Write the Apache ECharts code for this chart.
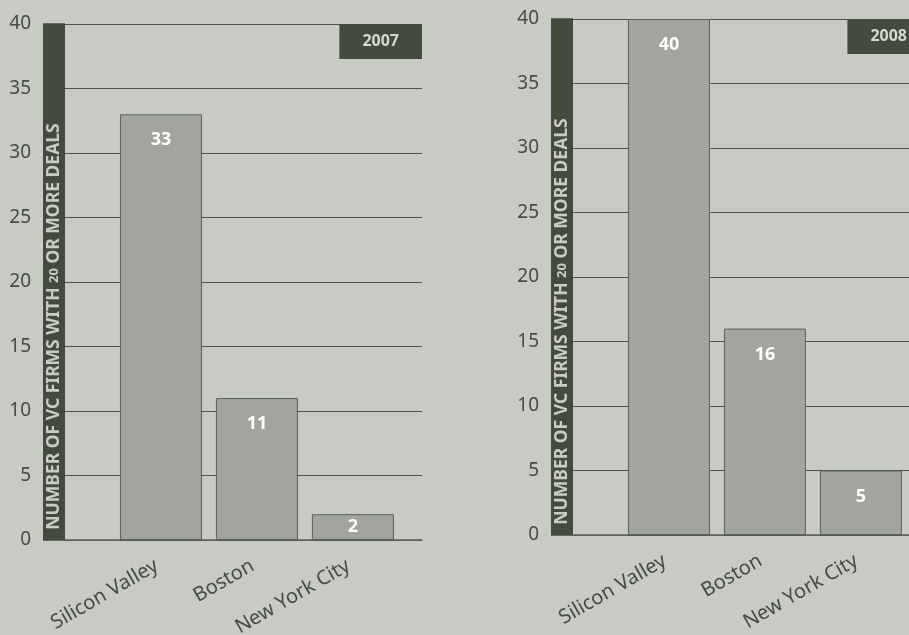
<!DOCTYPE html>
<html>
<head>
<meta charset="utf-8">
<script src="https://cdn.jsdelivr.net/npm/echarts@6/dist/echarts.min.js"></script>
<style>
  html, body { margin: 0; padding: 0; background: #c8cac4; overflow: hidden; }
  #chart { width: 940px; height: 635px; }
</style>
</head>
<body>
<div id="chart"></div>
<script>
// VC firms with 20 or more deals, by region
const cities = ['Silicon Valley', 'Boston', 'New York City'];
const firms2007 = [33, 11, 2];
const firms2008 = [40, 16, 5];
const years = ['2007', '2008'];
const yMax = 40;
const yStep = 5;

const DARK = '#454b3c';
const BAR = '#a1a59e';
const BAR_EDGE = '#5b6156';
const GRIDLINE = '#4e5448';
const TEXT = '#464c40';
const FONT = 'Noto Sans';

const panels = [
  { grid: { left: 65, right: 518, top: 24, bottom: 95 }, year: years[0], values: firms2007, titleRight: 518, titleTop: 24 },
  { grid: { left: 573, right: 10, top: 19, bottom: 100 }, year: years[1], values: firms2008, titleRight: 10, titleTop: 19 }
];

const axisName = '{t|NUMBER OF VC FIRMS WITH }{n|20}{t| OR MORE DEALS}';

const option = {
  backgroundColor: '#c8cac4',
  animation: false,
  title: panels.map(p => ({
    text: p.year,
    right: p.titleRight,
    top: p.titleTop,
    padding: [9, 23, 9, 23],
    backgroundColor: DARK,
    textStyle: { color: '#d6d8d2', fontSize: 16, fontWeight: 'bold', lineHeight: 17, fontFamily: FONT }
  })),
  grid: panels.map(p => Object.assign({ containLabel: false, outerBoundsMode: 'none' }, p.grid)),
  xAxis: panels.map((p, i) => ({
    type: 'value',
    gridIndex: i,
    min: -1,
    max: 2.72,
    interval: 1,
    splitLine: { show: false },
    axisTick: { show: false },
    axisLine: { show: true, lineStyle: { color: '#5d6358', width: 1.5 } },
    axisLabel: {
      customValues: [0, 1, 2],
      hideOverlap: false,
      rotate: 30,
      margin: 22,
      padding: [0, 5, 0, 0],
      fontSize: 20,
      fontFamily: FONT,
      color: TEXT,
      formatter: v => (Number.isInteger(v) && cities[v] !== undefined ? cities[v] : '')
    }
  })),
  yAxis: panels.map((p, i) => ({
    type: 'value',
    gridIndex: i,
    min: 0,
    max: yMax,
    interval: yStep,
    axisLine: { show: false },
    axisTick: { show: false },
    splitLine: { show: true, lineStyle: { color: GRIDLINE, width: 1 } },
    axisLabel: { margin: 34, fontSize: 19, fontFamily: FONT, color: TEXT },
    name: axisName,
    nameLocation: 'middle',
    nameRotate: 90,
    nameGap: 0,
    nameMoveOverlap: false,
    nameTextStyle: {
      backgroundColor: DARK,
      padding: [4, 100, 4, 11],
      lineHeight: 14,
      rich: {
        t: { color: '#c9ccc4', fontSize: 17.5, fontWeight: 'bold', fontFamily: FONT, lineHeight: 14 },
        n: { color: '#c9ccc4', fontSize: 13, fontWeight: 'bold', fontFamily: FONT, lineHeight: 14 }
      }
    }
  })),
  series: panels.map((p, i) => ({
    type: 'bar',
    xAxisIndex: i,
    yAxisIndex: i,
    barWidth: 82,
    itemStyle: { color: BAR, borderColor: BAR_EDGE, borderWidth: 1 },
    label: {
      show: true,
      position: 'insideTop',
      distance: 17,
      color: '#ffffff',
      fontSize: 18,
      fontWeight: 'bold',
      fontFamily: FONT
    },
    data: p.values.map((v, k) => (
      v < 4 ? { value: [k, v], label: { position: 'inside' } } : { value: [k, v] }
    ))
  }))
};

const chart = echarts.init(document.getElementById('chart'), null, { renderer: 'canvas' });
chart.setOption(option);
</script>
</body>
</html>
